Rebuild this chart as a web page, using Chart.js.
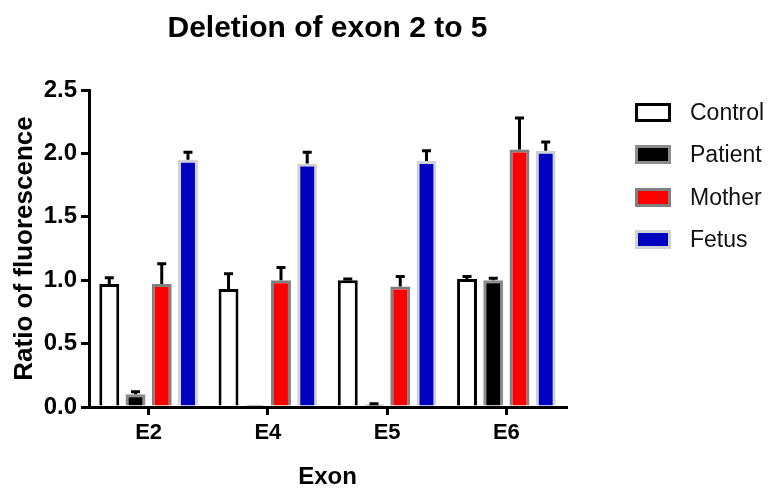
<!DOCTYPE html>
<html lang="en">
<head>
  <meta charset="UTF-8">
  <title>Deletion of exon 2 to 5</title>
  <script src="https://cdn.jsdelivr.net/npm/chart.js"></script>
  <style>
    body {
      margin: 0;
      background-color: #fff;
      font-family: "Liberation Sans", Arial, Helvetica, sans-serif;
    }
    #wrap {
      position: relative;
      width: 774px;
      height: 492px;
    }
    #legend {
      position: absolute;
      left: 635px;
      top: 91px;
    }
    .item {
      display: flex;
      align-items: center;
      height: 42.5px;
      font-size: 23px;
      color: #111;
    }
    .box {
      width: 36px;
      height: 19px;
      box-sizing: border-box;
      border: 3px solid #000;
      margin-right: 19px;
    }
  </style>
</head>
<body>
  <div id="wrap">
    <canvas id="exonChart" width="774" height="492"></canvas>
    <div id="legend"></div>
  </div>

  <script>
    const exons = ['E2', 'E4', 'E5', 'E6'];
    const yTicks = [0, 0.5, 1.0, 1.5, 2.0, 2.5];

    const control = [0.97, 0.93, 1.00, 1.01];
    const controlErr = [0.05, 0.12, 0.01, 0.02];
    const patient = [0.10, 0.005, 0.02, 1.00];
    const patientErr = [0.02, 0.00, 0.005, 0.015];
    const mother = [0.97, 1.00, 0.95, 2.03];
    const motherErr = [0.16, 0.10, 0.08, 0.25];
    const fetus = [1.95, 1.92, 1.94, 2.02];
    const fetusErr = [0.06, 0.09, 0.08, 0.07];

    Chart.defaults.font.family = '"Liberation Sans", Arial, Helvetica, sans-serif';
    Chart.defaults.color = '#000';

    // one-sided (upward) error bars, drawn from the y scale
    const errorBars = {
      id: 'errorBars',
      afterDatasetsDraw(chart) {
        const ctx = chart.ctx;
        const y = chart.scales.y;
        chart.data.datasets.forEach((ds, i) => {
          const meta = chart.getDatasetMeta(i);
          meta.data.forEach((bar, j) => {
            const err = ds.errors[j];
            if (!err) return;
            const y0 = y.getPixelForValue(ds.data[j]);
            const y1 = y.getPixelForValue(ds.data[j] + err);
            ctx.save();
            ctx.strokeStyle = '#000';
            ctx.lineWidth = 3;
            ctx.beginPath();
            ctx.moveTo(bar.x, y0);
            ctx.lineTo(bar.x, y1);
            ctx.moveTo(bar.x - 4.5, y1);
            ctx.lineTo(bar.x + 4.5, y1);
            ctx.stroke();
            ctx.restore();
          });
        });
      }
    };

    const ctx = document.getElementById('exonChart').getContext('2d');
    const chart = new Chart(ctx, {
      type: 'bar',
      data: {
        labels: exons,
        datasets: [
          { label: 'Control', data: control, errors: controlErr, backgroundColor: '#ffffff', borderColor: '#000000' },
          { label: 'Patient', data: patient, errors: patientErr, backgroundColor: '#000000', borderColor: '#8c8c8c' },
          { label: 'Mother', data: mother, errors: motherErr, backgroundColor: '#ff0000', borderColor: '#808080' },
          { label: 'Fetus', data: fetus, errors: fetusErr, backgroundColor: '#0000c0', borderColor: '#d2d2d2' }
        ]
      },
      options: {
        responsive: false,
        animation: false,
        layout: { padding: { left: 0, right: 208, top: 0, bottom: 0 } },
        datasets: {
          bar: {
            borderWidth: 3,
            categoryPercentage: 0.88,
            barPercentage: 0.76
          }
        },
        plugins: {
          legend: { display: false },
          tooltip: { enabled: false },
          title: {
            display: true,
            fullSize: false,
            text: 'Deletion of exon 2 to 5',
            color: '#000',
            font: { size: 30, weight: 'bold' },
            padding: { top: 11, bottom: 43 }
          }
        },
        scales: {
          x: {
            afterFit(scale) { scale.height = 85; },
            grid: { offset: false, drawOnChartArea: false, color: '#000', lineWidth: 3, tickLength: 8 },
            border: { color: '#000', width: 3 },
            ticks: { color: '#000', font: { size: 22, weight: 'bold' }, padding: 5 },
            title: {
              display: true,
              text: 'Exon',
              color: '#000',
              font: { size: 24, weight: 'bold' },
              padding: { top: 18, bottom: 0 }
            }
          },
          y: {
            min: 0,
            max: 2.5,
            afterFit(scale) { scale.width = 89; },
            afterBuildTicks(scale) { scale.ticks = yTicks.map(v => ({ value: v })); },
            grid: { drawOnChartArea: false, color: '#000', lineWidth: 3, tickLength: 8 },
            border: { color: '#000', width: 3 },
            ticks: {
              color: '#000',
              font: { size: 24, weight: 'bold' },
              padding: 4,
              callback: v => v.toFixed(1)
            },
            title: {
              display: true,
              text: 'Ratio of fluorescence',
              color: '#000',
              font: { size: 26, weight: 'bold' },
              padding: { top: 9, bottom: 4 }
            }
          }
        }
      },
      plugins: [errorBars]
    });

    // legend built from the chart's datasets
    const legend = document.getElementById('legend');
    chart.data.datasets.forEach(ds => {
      const item = document.createElement('div');
      item.className = 'item';
      item.innerHTML = `<span class="box" style="background:${ds.backgroundColor};border-color:${ds.borderColor}"></span>${ds.label}`;
      legend.appendChild(item);
    });
  </script>
</body>
</html>
